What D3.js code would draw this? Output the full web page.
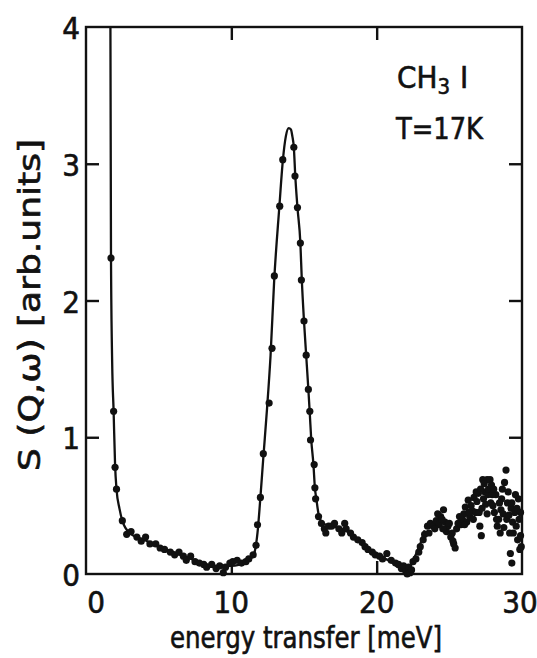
<!DOCTYPE html>
<html>
<head>
<meta charset="utf-8">
<script src="https://cdn.jsdelivr.net/npm/d3@7"></script>
<style>
  html, body { margin: 0; padding: 0; background: #fff; }
  svg text { font-family: "DejaVu Sans Condensed", "Liberation Sans Narrow", "DejaVu Sans", sans-serif; fill: #111; stroke: #111; stroke-width: 0.6px; }
</style>
</head>
<body>
<svg id="chart" width="537" height="658"></svg>
<script>
// ---------- data ----------
const xTicks = [0, 10, 20, 30];
const yTicks = [0, 1, 2, 3, 4];
const xLabel = "energy transfer [meV]";
const yLabel = "S (Q,\u03C9) [arb.units]";

// measured points (energy transfer meV, S)
const pointE = [
  1.72, 1.9, 2.0, 2.1, 2.5, 2.8, 3.1, 3.5, 3.8, 4.1, 4.4, 4.8, 5.1, 5.4, 5.8, 6.1, 6.4, 6.7, 6.9, 7.2,
  7.5, 7.8, 8.1, 8.3, 8.65, 8.95, 9.2, 9.45, 9.6, 9.9, 10.1, 10.4, 10.7, 11.0, 11.2, 11.5, 11.7, 11.8, 12.0, 12.2,
  12.6, 12.8, 12.96, 13.33, 13.54, 14.3, 14.38, 14.55, 14.75, 14.82, 15.0, 15.15, 15.3, 15.4, 15.45, 15.7, 15.75, 15.8,
  16.0, 16.2, 16.4, 16.5, 16.7, 16.9, 17.1, 17.4, 17.6, 17.8, 17.9, 18.2, 18.4, 18.7, 19.0, 19.2, 19.4, 19.7, 19.9,
  20.2, 20.4, 20.7, 21.0, 21.3, 21.5, 21.7, 21.85, 22.0, 22.1, 22.2, 22.3, 22.4, 22.5, 22.7, 22.9,
  23.0, 23.2, 23.3, 23.5, 23.7, 23.9, 24.1, 24.3, 24.4, 24.6, 24.7, 24.8, 24.9, 25.1, 25.2, 25.3, 25.4, 25.5, 25.6,
  25.8, 25.9, 26.0, 26.1, 26.2, 26.3, 26.4, 26.5, 26.6, 26.7, 26.8, 26.9, 27.0, 27.05, 27.1, 27.2, 27.3, 27.35,
  27.45, 27.5, 27.6, 27.65, 27.7, 27.8, 27.85, 27.9, 28.0, 28.1, 28.2, 28.3, 28.4, 28.5, 28.55, 28.6, 28.7, 28.8,
  28.9, 28.95, 29.0, 29.1, 29.2, 29.25, 29.3, 29.35, 29.4, 29.5, 29.6, 29.7, 29.8, 29.9, 29.95,
  23.6, 24.0, 24.2, 24.5, 24.55, 25.0, 25.25, 25.7, 26.05, 26.35, 26.65, 26.85, 27.15, 27.25, 27.4, 27.6, 27.95,
  28.05, 28.25, 28.45, 28.65, 28.75, 29.05, 29.15, 29.3, 29.55, 29.65, 29.85, 29.9, 29.75
];
const pointS = [
  2.31, 1.19, 0.78, 0.62, 0.39, 0.29, 0.31, 0.27, 0.24, 0.27, 0.22, 0.22, 0.19, 0.18, 0.16, 0.14, 0.16, 0.13, 0.10, 0.13,
  0.09, 0.08, 0.07, 0.05, 0.07, 0.04, 0.06, 0.01, 0.05, 0.08, 0.09, 0.10, 0.08, 0.09, 0.11, 0.14, 0.21, 0.36, 0.56, 0.88,
  1.25, 1.65, 2.18, 2.69, 3.03, 3.12, 2.91, 2.68, 2.42, 2.15, 1.85, 1.60, 1.35, 1.19, 0.98, 0.80, 0.63, 0.55,
  0.42, 0.37, 0.33, 0.30, 0.35, 0.35, 0.37, 0.33, 0.30, 0.37, 0.33, 0.30, 0.27, 0.25, 0.23, 0.20, 0.18, 0.16, 0.14,
  0.13, 0.11, 0.15, 0.10, 0.08, 0.07, 0.04, 0.06, 0.02, 0.00, 0.05, 0.01, 0.03, 0.09, 0.11, 0.16,
  0.20, 0.25, 0.29, 0.35, 0.37, 0.35, 0.39, 0.36, 0.42, 0.47, 0.38, 0.31, 0.35, 0.27, 0.30, 0.22, 0.19, 0.33, 0.37,
  0.36, 0.40, 0.44, 0.49, 0.38, 0.54, 0.42, 0.50, 0.46, 0.56, 0.45, 0.53, 0.59, 0.45, 0.35, 0.28, 0.69, 0.55,
  0.60, 0.51, 0.69, 0.58, 0.62, 0.69, 0.52, 0.65, 0.50, 0.45, 0.58, 0.35, 0.40, 0.30, 0.47, 0.55, 0.44, 0.67,
  0.76, 0.40, 0.52, 0.43, 0.15, 0.48, 0.08, 0.38, 0.30, 0.45, 0.35, 0.25, 0.40, 0.28, 0.20,
  0.30, 0.33, 0.44, 0.40, 0.33, 0.37, 0.24, 0.42, 0.36, 0.45, 0.40, 0.60, 0.62, 0.48, 0.66, 0.44, 0.58,
  0.62, 0.40, 0.52, 0.62, 0.34, 0.60, 0.30, 0.52, 0.58, 0.48, 0.18, 0.45, 0.55
];

// fitted curve
const fitE = [
  1.68, 1.72, 1.80, 1.90, 2.00, 2.10, 2.30, 2.50, 3.00, 4.0, 5.0, 6.0, 7.0, 8.0, 9.0, 10.0, 11.0, 11.5, 11.8,
  12.0, 12.2, 12.45, 12.7, 12.95, 13.3, 13.55, 13.75, 13.95, 14.1, 14.2, 14.3, 14.4, 14.55, 14.75, 14.85, 15.0,
  15.15, 15.3, 15.4, 15.5, 15.65, 15.75, 15.85, 16.0, 16.3, 17.0, 18.0, 19.0, 20.0, 21.0, 21.7, 22.2, 22.6, 23.0, 23.3
];
const fitS = [
  4.0, 2.31, 1.55, 1.19, 0.80, 0.62, 0.48, 0.39, 0.30, 0.25, 0.20, 0.16, 0.12, 0.08, 0.06, 0.06, 0.09, 0.13, 0.30,
  0.56, 0.85, 1.20, 1.60, 2.15, 2.68, 3.03, 3.20, 3.26, 3.25, 3.20, 3.12, 2.91, 2.68, 2.42, 2.15, 1.85,
  1.60, 1.35, 1.17, 0.98, 0.80, 0.63, 0.55, 0.44, 0.37, 0.35, 0.31, 0.22, 0.14, 0.09, 0.04, 0.04, 0.12, 0.22, 0.32
];

// ---------- chart ----------
const svg = d3.select("#chart");
const x = d3.scaleLinear().domain([0, 30]).range([86, 522]);
const y = d3.scaleLinear().domain([0, 4]).range([574, 27]);
const ink = "#111";

// frame
svg.append("rect")
  .attr("x", x(0)).attr("y", y(4))
  .attr("width", x(30) - x(0)).attr("height", y(0) - y(4))
  .attr("fill", "none").attr("stroke", ink).attr("stroke-width", 2.4);

// inward ticks via d3 axes
const tickLen = 13;
const gB = svg.append("g").attr("transform", `translate(0,${y(0)})`)
  .call(d3.axisTop(x).tickValues([10, 20]).tickSize(tickLen).tickFormat(""));
const gT = svg.append("g").attr("transform", `translate(0,${y(4)})`)
  .call(d3.axisBottom(x).tickValues([10, 20]).tickSize(tickLen).tickFormat(""));
const gL = svg.append("g").attr("transform", `translate(${x(0)},0)`)
  .call(d3.axisRight(y).tickValues([1, 2, 3]).tickSize(tickLen).tickFormat(""));
const gR = svg.append("g").attr("transform", `translate(${x(30)},0)`)
  .call(d3.axisLeft(y).tickValues([1, 2, 3]).tickSize(tickLen).tickFormat(""));
[gB, gT, gL, gR].forEach(g => {
  g.select(".domain").remove();
  g.selectAll(".tick line").attr("stroke", ink).attr("stroke-width", 2.4);
});

// tick labels
svg.append("g").selectAll("text").data(xTicks).join("text")
  .attr("x", d => d === 0 ? x(d) + 10 : (d === 30 ? x(d) - 2 : x(d)))
  .attr("y", 613)
  .attr("text-anchor", "middle")
  .attr("font-size", 31)
  .text(d => d);
svg.append("g").selectAll("text").data(yTicks).join("text")
  .attr("x", 80)
  .attr("y", d => y(d) + 12)
  .attr("text-anchor", "end")
  .attr("font-size", 31)
  .text(d => d);

// axis titles
svg.append("text")
  .attr("x", 306).attr("y", 648)
  .attr("text-anchor", "middle")
  .attr("font-size", 30)
  .attr("textLength", 272).attr("lengthAdjust", "spacingAndGlyphs")
  .text(xLabel);
svg.append("text")
  .attr("transform", "translate(40,305) rotate(-90)")
  .attr("text-anchor", "middle")
  .attr("font-size", 30)
  .attr("textLength", 332).attr("lengthAdjust", "spacingAndGlyphs")
  .text(yLabel);

// annotation
const ann = svg.append("text").attr("x", 397).attr("y", 88).attr("font-size", 31);
ann.append("tspan").text("CH");
ann.append("tspan").attr("font-size", 22).attr("dy", 6).text("3");
ann.append("tspan").attr("dy", -6).attr("dx", 10).text("I");
svg.append("text").attr("x", 396).attr("y", 139).attr("font-size", 31)
  .attr("textLength", 87).attr("lengthAdjust", "spacingAndGlyphs").text("T=17K");

// fitted line
const fit = fitE.map((e, i) => [e, fitS[i]]);
svg.append("path")
  .datum(fit)
  .attr("fill", "none").attr("stroke", ink).attr("stroke-width", 2.3)
  .attr("d", d3.line().x(d => x(d[0])).y(d => y(d[1])).curve(d3.curveMonotoneX));

// points
const pts = pointE.map((e, i) => [e, pointS[i]]);
svg.append("g").selectAll("circle").data(pts).join("circle")
  .attr("cx", d => x(d[0])).attr("cy", d => y(d[1]))
  .attr("r", 3.6).attr("fill", ink);
</script>
</body>
</html>
